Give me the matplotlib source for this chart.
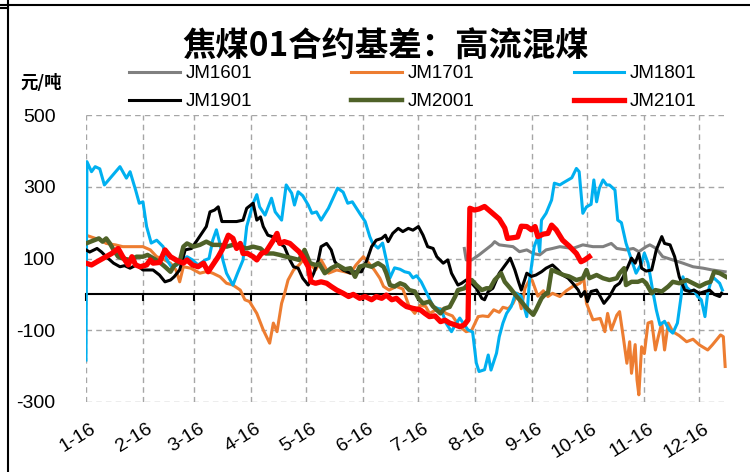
import matplotlib
matplotlib.use('Agg')
import matplotlib.pyplot as plt
from matplotlib.lines import Line2D

plt.rcParams['font.family'] = ['Liberation Sans', 'DejaVu Sans']
plt.rcParams['axes.unicode_minus'] = False

# x values are day of year (Jan 1 = 0), ticks on the 16th of each month
tick_days = [15, 46, 74, 105, 135, 166, 196, 227, 258, 288, 319, 349]
tick_labels = ['1-16', '2-16', '3-16', '4-16', '5-16', '6-16',
               '7-16', '8-16', '9-16', '10-16', '11-16', '12-16']

jm1601_d = [221, 222, 225, 229, 236, 237.5, 240, 247.5, 251, 255, 258.5, 262, 265.5, 269, 273, 280,
            285.5, 291, 296.5, 301, 304, 309, 313, 316, 320, 322, 325.5, 329, 334.5, 340, 345.5,
            351, 356, 363]
jm1601_v = [128, 96, 96, 110, 138, 147, 138, 133, 119, 124, 114, 110, 124, 128, 133, 128,
            138, 133, 133, 142, 128, 124, 128, 119, 133, 138, 128, 105, 96, 87, 77,
            73, 68, 63]

jm1701_d = [15, 23, 26, 31, 35, 41, 46, 50, 53.5, 57, 61, 64, 66, 68, 72, 77, 81, 84, 88, 91.5,
            95, 99, 101.5, 104, 108, 111.5, 115, 117, 119, 121.5, 123, 125, 128, 131, 134, 140,
            143, 147, 151.5, 155, 159, 162, 166, 168.5, 172, 175, 177, 180, 184, 187.5, 191,
            194, 197, 200, 202, 205, 208, 211, 214.5, 218.5, 222, 225, 228.5, 231, 234, 237,
            240, 242, 245, 247.5, 250, 252, 254, 257, 258, 261, 264, 266.5, 269, 273, 276.5,
            280, 284, 286, 287.5, 291, 295, 297.5, 299, 301, 304, 305.5, 307.5, 309.5, 311,
            312, 314, 315, 316, 317.5, 319, 321, 323, 325, 326.5, 328.5, 330, 332, 334.5,
            338, 342, 345.5, 349, 353.5, 356, 360.5, 362, 363]
jm1701_v = [165, 151, 142, 138, 133, 133, 133, 124, 105, 98, 87, 68, 35, 77, 73, 59, 64, 59, 49, 31,
            26, 12, -15, -20, -53, -99, -136, -80, -104, -25, 0, 40, 68, 82, 101, 68,
            96, 59, 68, 64, 59, 82, 105, 90, 68, 45, 22, 12, 22, 15, -34,
            -53, -30, -34, -53, -45, -40, -53, -60, -90, -104, -100, -62, -60, -62, -43,
            -50, -36, -40, -25, 3, -40, 17, 45, 38, -5, 10, -6, 3, -6, 10,
            22, 31, 45, -25, -71, -67, -104, -53, -99, -58, -48, -118, -192, -132,
            -220, -140, -238, -280, -146, -165, -80, -76, -155, -120, -80, -155, -80, -104,
            -115, -132, -125, -141, -155, -141, -113, -118, -201]

jm1801_d = [15, 15.5, 18, 20, 22.5, 25, 33.5, 37, 39, 42, 44, 46, 48, 50.5, 53.5, 57, 59, 61.5,
            64, 70, 73, 76, 80, 82, 84, 86, 88, 89.5, 91.5, 95, 97.5, 100.5, 102.5, 106, 108,
            109.5, 112.5, 116, 118, 121.5, 124, 127, 128.5, 130.5, 133, 136, 138, 140.5, 143,
            147, 152, 155, 157.5, 160, 164, 167, 169.5, 171, 174, 176.5, 178.5, 180.5, 183,
            186, 188.5, 191, 193, 195, 197.5, 200.5, 204, 208.5, 211, 214, 215.5, 218.5, 221,
            223, 225.5, 227.5, 229, 232, 234, 235.5, 238.5, 240, 242, 244, 246.5, 249, 252,
            255, 256.5, 259, 261, 262, 263, 265.5, 268.5, 270, 273, 274.5, 277.5, 279.5, 282,
            283.5, 285.5, 287.5, 290, 291.5, 293, 294.5, 296.5, 298.5, 300, 303, 304.5, 306.5,
            309, 312, 314.5, 317.5, 319, 321, 323.5, 325.5, 327.5, 330, 332.5, 334.5, 337,
            339, 340, 342, 344.5, 346, 348, 350, 352, 353.5, 355.5, 357, 360, 361.5]
jm1801_v = [-183, 370, 342, 356, 350, 305, 356, 324, 342, 291, 254, 258, 189, 143, 151, 133, 96, 77,
            80, 105, 96, 82, 96, 100, 151, 180, 140, 96, 59, 26, 59, 96, 189, 254, 278,
            244, 221, 268, 230, 207, 305, 282, 249, 286, 275, 249, 226, 230, 207,
            240, 296, 285, 254, 258, 226, 203, 161, 143, 129, 143, 96, 46, 74,
            70, 63, 60, 46, 52, 35, 4, -34, -43, -80, -104, -90, -66, -85,
            -99, -105, -191, -215, -210, -169, -211, -164, -118, -80, -53, -34, 4, -5,
            -62, 40, 133, 160, 119, 207, 226, 263, 310, 305, 310, 319, 325, 351,
            342, 226, 244, 251, 319, 258, 296, 319, 305, 305, 291, 207, 200,
            143, 96, 59, 87, 115, 87, 12, -43, -85, -75, -99, -108, -80,
            -6, 49, 20, 8, 12, -6, -15, -62, 4, 40, 45, 31, 12]

jm1901_d = [15, 17, 21, 23.5, 26, 30, 33.5, 36, 39, 42.5, 46, 51.5, 55, 58, 61, 63, 66, 69, 72.5,
            75, 78, 80.5, 82.5, 85, 87, 89, 91.5, 97, 100.5, 102.5, 106, 108, 110, 111.5, 114,
            117, 120.5, 123, 126, 128, 130.5, 133, 136, 139, 141.5, 143, 146, 148.5, 150.5, 152,
            155, 159, 161.5, 165, 168, 170.5, 173, 176, 178, 179.5, 182, 185, 187.5, 190.5, 193,
            196, 198.5, 201, 204, 206, 209.5, 212, 214, 217.5, 219.5, 222, 225, 227.5, 230.5,
            232, 234, 236.5, 240, 244, 246, 248.5, 250.5, 252, 255, 257.5, 260, 263, 265.5,
            269, 272, 274.5, 277.5, 280, 283, 284.5, 286.5, 288, 290, 293, 295, 297, 300,
            303, 305.5, 307.5, 310, 312, 314, 316, 317.5, 320, 323, 325.5, 328.5, 330, 333,
            335.5, 338, 341, 343.5, 346, 349, 352, 354.5, 357, 360, 361]
jm1901_v = [124, 118, 128, 118, 105, 87, 77, 80, 73, 82, 68, 68, 54, 35, 40, 49, 68, 124, 128,
            147, 170, 189, 230, 235, 244, 203, 203, 203, 207, 240, 254, 207, 216, 189, 165,
            160, 142, 133, 96, 77, 73, 45, 26, 59, 96, 133, 142, 124, 91, 82,
            68, 59, 63, 63, 96, 133, 151, 156, 165, 147, 170, 184, 175, 184, 179,
            189, 165, 133, 128, 105, 87, 96, 59, 26, 31, 40, 31, 17, -11,
            -15, 8, 17, 59, 87, 101, 68, 35, 12, 59, 50, 54, 63, 73,
            82, 68, 54, 45, 31, 12, -6, 8, -20, 8, 12, -6, -25, -6,
            22, 31, 49, 77, 101, 87, 114, 73, 65, 68, 124, 161, 142, 138,
            105, 49, 12, 8, 12, 3, 8, 12, 0, -6, 3]

jm2001_d = [15, 19, 22, 24, 26, 28, 30, 32.5, 35, 39, 42.5, 46, 48.5, 51.5, 55, 58, 61, 63, 66, 68,
            70, 73.5, 77, 80.5, 84, 88, 91.5, 95, 99, 102.5, 106, 110, 113, 117, 120.5, 124,
            128, 131, 134, 137, 140, 142, 145, 148.5, 152, 156, 159, 161.5, 164, 167, 170.5,
            174, 177, 178.5, 180.5, 183, 186, 188.5, 191, 194, 196, 198.5, 202, 204, 208, 210,
            213, 216, 217.5, 221, 225, 227.5, 230.5, 233, 235, 237.5, 241, 243, 246, 249.5,
            252, 255, 258.5, 260, 263, 265.5, 266.5, 268.5, 271, 275, 278, 282, 285.5, 287.5,
            289, 293, 296.5, 300, 304, 305.5, 308, 309, 312, 315.5, 318, 320, 323, 325, 328.5,
            332, 334.5, 338, 342, 345.5, 349, 352.5, 355, 357, 360, 363.5]
jm2001_v = [142, 150, 156, 147, 156, 142, 124, 105, 100, 96, 105, 105, 110, 101, 90, 77, 63, 80, 91, 133,
            142, 133, 138, 147, 138, 138, 133, 138, 133, 128, 133, 128, 114, 114, 110, 105,
            100, 96, 124, 87, 82, 85, 59, 73, 82, 70, 73, 49, 77, 82, 77,
            87, 77, 59, 26, 22, 31, 26, 12, 8, -11, -25, -20, -34, -53, -40,
            -35, -6, 12, 17, 40, 26, 12, 17, 17, 40, 59, 35, 17, -6,
            -20, -39, -57, -43, -11, 3, 3, 68, 63, 54, 50, 40, 45, 68,
            45, 54, 45, 40, 45, 59, 73, 26, 35, 35, 40, 31, 3, 12, 8,
            22, 35, 31, 40, 31, 22, 31, 35, 63, 59, 49]

jm2101_d = [15, 18, 21, 24.5, 29, 32.5, 35, 38, 40, 42, 44.5, 48, 50, 51.5, 55, 58, 61, 64, 68, 70,
            73, 76, 79, 81.5, 84, 87, 89.5, 92.5, 95, 97, 99, 100.5, 103, 106, 108, 110.5, 113,
            117, 119, 120.5, 123, 126, 129, 131, 133, 136, 137.5, 140, 143, 146, 148.5, 151.5,
            155, 158, 160.5, 164, 167, 170.5, 173, 176, 178.5, 181.5, 184, 187, 189.5, 193,
            197, 199.5, 202, 205, 208, 210.5, 213, 216, 218.5, 221, 223, 224, 226.5, 229, 232,
            235, 237.5, 240, 243, 244.5, 247.5, 250, 252, 255, 257.5, 259.5, 261, 264, 266.5,
            268.5, 271, 274.5, 278, 282, 284.5, 286.5, 289]
jm2101_v = [87, 82, 91, 101, 114, 128, 105, 82, 105, 82, 77, 82, 96, 87, 89, 124, 105, 96, 87, 96,
            82, 77, 87, 63, 82, 105, 128, 165, 156, 128, 142, 114, 114, 105, 96, 114, 119,
            151, 170, 142, 147, 142, 128, 119, 105, 77, 35, 31, 35, 31, 22, 12,
            3, -6, 0, -11, -6, -15, -6, -11, -2, -15, -11, -25, -34, -39,
            -43, -53, -62, -60, -76, -72, -80, -85, -90, -85, -71, 240, 235, 238, 245,
            232, 221, 210, 185, 156, 158, 160, 190, 189, 180, 189, 161, 168, 170,
            193, 180, 151, 135, 114, 91, 96, 105]

fig = plt.figure(figsize=(7.5, 4.72), dpi=100)
ax = fig.add_axes([86 / 750, 1 - 402 / 472, (727 - 86) / 750, (402 - 115) / 472])

l1601, = ax.plot(jm1601_d, jm1601_v, color='#808080', lw=2.2, label='JM1601')
l1701, = ax.plot(jm1701_d, jm1701_v, color='#ED7D31', lw=2.2, label='JM1701')
l1801, = ax.plot(jm1801_d, jm1801_v, color='#00B0F0', lw=2.2, label='JM1801')
l1901, = ax.plot(jm1901_d, jm1901_v, color='#000000', lw=2.2, label='JM1901')
l2001, = ax.plot(jm2001_d, jm2001_v, color='#4F6228', lw=3.2, label='JM2001')
l2101, = ax.plot(jm2101_d, jm2101_v, color='#FF0000', lw=3.8, label='JM2101')

ax.set_xlim(15, 364)
ax.set_ylim(-300, 500)
ax.set_yticks([-300, -100, 100, 300, 500])
ax.set_xticks(tick_days)
ax.grid(True, color='#A6A6A6', lw=1, ls=(0, (4, 3)))
ax.set_axisbelow(True)

for s in ['top', 'right', 'left']:
    ax.spines[s].set_visible(False)
ax.spines['bottom'].set_position(('data', 0))
ax.spines['bottom'].set_linewidth(1.5)
ax.spines['bottom'].set_zorder(1.5)
ax.tick_params(axis='x', direction='out', length=5, width=1.5, labelbottom=False)
ax.tick_params(axis='y', length=0, pad=22, labelsize=14)

for d, lab in zip(tick_days, tick_labels):
    ax.text(d + 2, -352, lab, rotation=32, ha='right', va='top',
            rotation_mode='anchor', fontsize=14, clip_on=False)

fig.text(386 / 750, 1 - 47 / 472, '焦煤01合约基差：高流混煤', ha='center', va='center',
         fontsize=24, fontweight='bold', family=['Noto Sans CJK SC', 'DejaVu Sans'])
fig.text(20 / 750, 1 - 83 / 472, '元/吨', ha='left', va='center', fontsize=12.5,
         fontweight='bold', family=['Noto Sans CJK SC', 'DejaVu Sans'])

# legend filled column by column, so order the handles to read row by row
handles = [l1601, l1901, l1701, l2001, l1801, l2101]
fig.legend(handles=handles, labels=[h.get_label() for h in handles],
           loc='upper left', bbox_to_anchor=(129 / 750, 1 - 65 / 472), ncol=3,
           frameon=False, fontsize=13.5, handlelength=2.7, handletextpad=0.3,
           columnspacing=5.3, labelspacing=0.6, borderpad=0, borderaxespad=0)

# sheet cell borders around the picture
fig.add_artist(Line2D([7.5 / 750, 7.5 / 750], [0, 1], color='black', lw=1.5,
                      transform=fig.transFigure))
fig.add_artist(Line2D([0, 1], [1 - 5 / 472, 1 - 5 / 472], color='black', lw=1.5,
                      transform=fig.transFigure))
fig.add_artist(Line2D([0, 7.5 / 750], [1 - 8 / 472, 1 - 8 / 472], color='black', lw=1.5,
                      transform=fig.transFigure))

fig.savefig('out.png', dpi=100)
